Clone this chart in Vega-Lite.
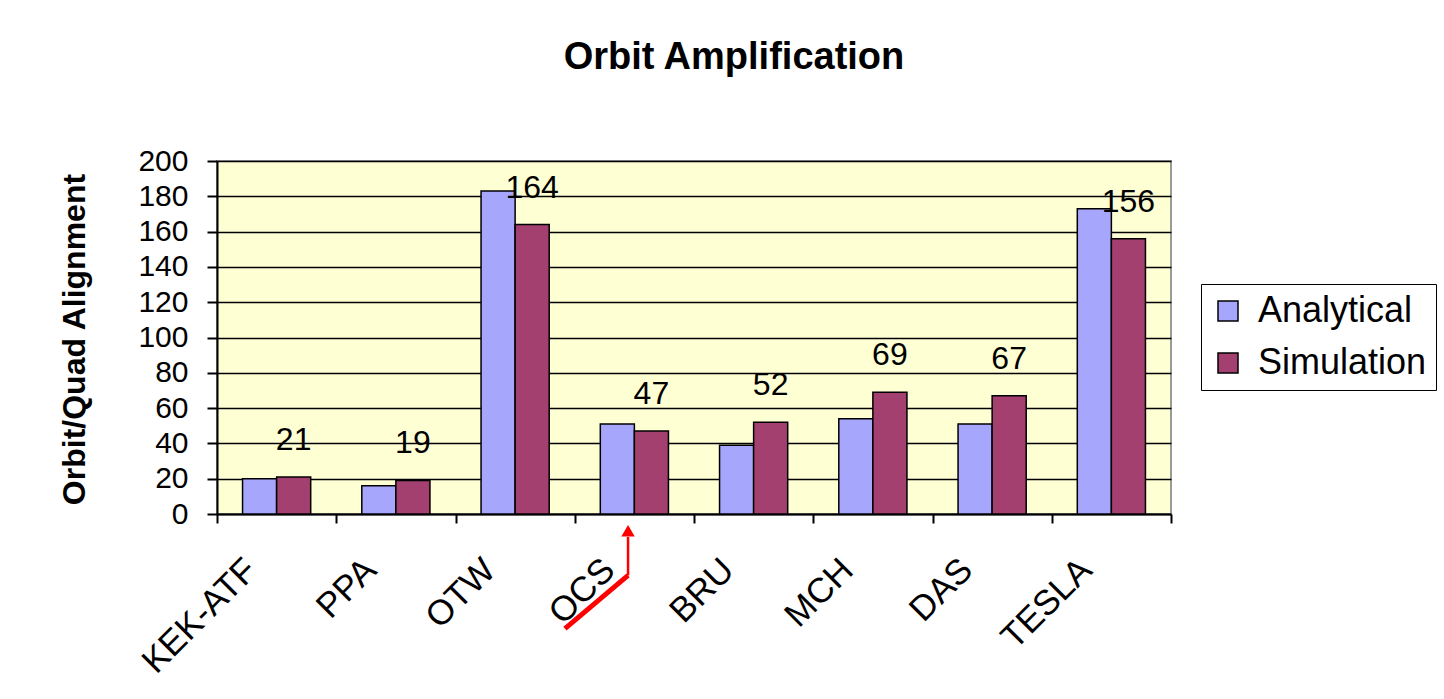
{
  "$schema": "https://vega.github.io/schema/vega-lite/v6.json",
  "width": 954,
  "height": 353,
  "autosize": {"type": "none"},
  "padding": {"left": 217, "top": 161, "right": 273, "bottom": 185},
  "background": "white",
  "title": {
    "text": "Orbit Amplification",
    "font": "Liberation Sans",
    "fontSize": 38,
    "fontWeight": "bold",
    "color": "black",
    "anchor": "middle",
    "frame": "group",
    "baseline": "alphabetic",
    "offset": 39,
    "dx": 40
  },
  "config": {
    "view": {"fill": "#FFFFD4", "stroke": "#9A9A9A", "strokeWidth": 2},
    "font": "Liberation Sans",
    "axisX": {
      "labelAngle": -45,
      "labelAlign": "right",
      "labelBaseline": "middle",
      "labelFont": "Liberation Sans",
      "labelFontSize": 35,
      "labelColor": "black",
      "labelOffset": -26,
      "labelPadding": 41,
      "labelOverlap": false,
      "labelLimit": 300,
      "tickBand": "extent",
      "tickSize": 9,
      "tickColor": "black",
      "tickWidth": 2,
      "domainColor": "black",
      "domainWidth": 2,
      "grid": false
    },
    "axisY": {
      "tickSize": 10,
      "tickColor": "black",
      "tickWidth": 2,
      "domainColor": "black",
      "domainWidth": 2,
      "labelFont": "Liberation Sans",
      "labelFontSize": 30,
      "labelPadding": 19,
      "labelColor": "black",
      "labelOverlap": false,
      "grid": true,
      "gridColor": "black",
      "gridWidth": 1.5,
      "titleFont": "Liberation Sans",
      "titleFontSize": 32,
      "titleFontWeight": "bold",
      "titleColor": "black",
      "titleAngle": -90,
      "titleX": -143,
      "titleY": 178,
      "titleAlign": "center",
      "titleBaseline": "middle"
    }
  },
  "datasets": {
    "bars": [
      {"cat": "KEK-ATF", "series": "Analytical", "value": 20},
      {"cat": "KEK-ATF", "series": "Simulation", "value": 21},
      {"cat": "PPA", "series": "Analytical", "value": 16},
      {"cat": "PPA", "series": "Simulation", "value": 19},
      {"cat": "OTW", "series": "Analytical", "value": 183},
      {"cat": "OTW", "series": "Simulation", "value": 164},
      {"cat": "OCS", "series": "Analytical", "value": 51},
      {"cat": "OCS", "series": "Simulation", "value": 47},
      {"cat": "BRU", "series": "Analytical", "value": 39},
      {"cat": "BRU", "series": "Simulation", "value": 52},
      {"cat": "MCH", "series": "Analytical", "value": 54},
      {"cat": "MCH", "series": "Simulation", "value": 69},
      {"cat": "DAS", "series": "Analytical", "value": 51},
      {"cat": "DAS", "series": "Simulation", "value": 67},
      {"cat": "TESLA", "series": "Analytical", "value": 173},
      {"cat": "TESLA", "series": "Simulation", "value": 156}
    ],
    "arrow": [
      {"part": "shaft", "px": 2.918, "py": -64.9, "px2": 3.447, "py2": -34.8},
      {"part": "stem", "px": 3.447, "py": -34.8, "px2": 3.447, "py2": -13.0},
      {"part": "head", "px": 3.447, "py": -9.5}
    ]
  },
  "layer": [
    {
      "data": {"name": "bars"},
      "layer": [
        {
          "mark": {"type": "bar", "stroke": "black", "strokeWidth": 1.5},
          "encoding": {
            "x": {
              "field": "cat",
              "type": "nominal",
              "sort": null,
              "scale": {"paddingInner": 0, "paddingOuter": 0},
              "axis": {"title": null}
            },
            "xOffset": {
              "field": "series",
              "sort": ["Analytical", "Simulation"],
              "scale": {"paddingInner": 0, "paddingOuter": 0.75}
            },
            "y": {
              "field": "value",
              "type": "quantitative",
              "scale": {"domain": [0, 200], "nice": false},
              "axis": {"title": "Orbit/Quad Alignment", "values": [0, 20, 40, 60, 80, 100, 120, 140, 160, 180, 200]}
            },
            "color": {
              "field": "series",
              "type": "nominal",
              "scale": {"domain": ["Analytical", "Simulation"], "range": ["#A6A6FC", "#A34070"]},
              "legend": {
                "title": null,
                "orient": "none",
                "legendX": 984,
                "legendY": 123,
                "symbolType": "square",
                "symbolSize": 400,
                "symbolStrokeColor": "black",
                "symbolStrokeWidth": 1.5,
                "symbolOpacity": 1,
                "labelFont": "Liberation Sans",
                "labelFontSize": 36,
                "labelColor": "black",
                "labelOffset": 12,
                "labelLimit": 400,
                "strokeColor": "black",
                "fillColor": "white",
                "padding": 9,
                "rowPadding": 16
              }
            }
          }
        },
        {
          "transform": [{"filter": "datum.series === 'Simulation'"}],
          "mark": {"type": "text", "fontSize": 32, "baseline": "middle", "dy": -37, "color": "black", "font": "Liberation Sans"},
          "encoding": {
            "x": {"field": "cat", "type": "nominal", "sort": null, "axis": {"title": null}},
            "xOffset": {"field": "series", "sort": ["Analytical", "Simulation"]},
            "y": {
              "field": "value",
              "type": "quantitative",
              "scale": {"domain": [0, 200], "nice": false},
              "axis": {"title": "Orbit/Quad Alignment", "values": [0, 20, 40, 60, 80, 100, 120, 140, 160, 180, 200]}
            },
            "text": {"field": "value", "type": "quantitative"}
          }
        }
      ]
    },
    {
      "data": {"name": "arrow"},
      "layer": [
        {
          "transform": [{"filter": "datum.part === 'shaft'"}],
          "mark": {"type": "rule", "color": "#FF0000", "strokeWidth": 5, "strokeCap": "butt"},
          "encoding": {
            "x": {"field": "px", "type": "quantitative", "scale": {"domain": [0, 8], "nice": false, "zero": false}, "axis": null},
            "x2": {"field": "px2"},
            "y": {"field": "py", "type": "quantitative", "scale": {"domain": [0, 200], "nice": false}, "axis": null},
            "y2": {"field": "py2"}
          }
        },
        {
          "transform": [{"filter": "datum.part === 'stem'"}],
          "mark": {"type": "rule", "color": "#FF0000", "strokeWidth": 2.5, "strokeCap": "butt"},
          "encoding": {
            "x": {"field": "px", "type": "quantitative", "scale": {"domain": [0, 8], "nice": false, "zero": false}, "axis": null},
            "x2": {"field": "px2"},
            "y": {"field": "py", "type": "quantitative", "scale": {"domain": [0, 200], "nice": false}, "axis": null},
            "y2": {"field": "py2"}
          }
        },
        {
          "transform": [{"filter": "datum.part === 'head'"}],
          "mark": {"type": "point", "shape": "triangle-up", "filled": true, "color": "#FF0000", "size": 180, "opacity": 1},
          "encoding": {
            "x": {"field": "px", "type": "quantitative", "scale": {"domain": [0, 8], "nice": false, "zero": false}, "axis": null},
            "y": {"field": "py", "type": "quantitative", "scale": {"domain": [0, 200], "nice": false}, "axis": null}
          }
        }
      ]
    }
  ],
  "resolve": {"scale": {"x": "independent", "y": "independent"}}
}
